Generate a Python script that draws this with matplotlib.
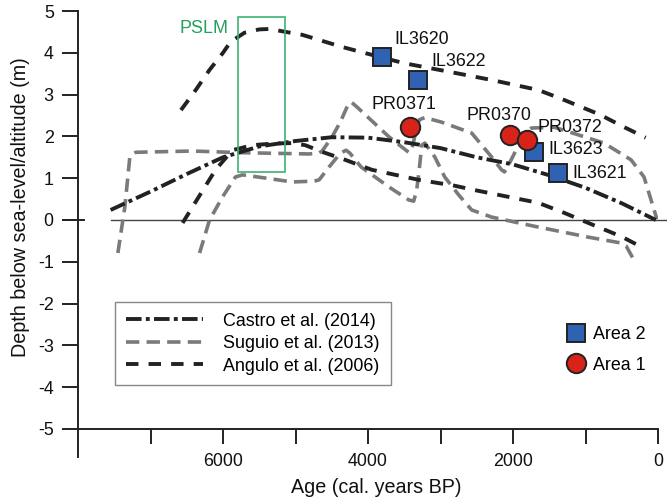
import matplotlib
matplotlib.use("Agg")
import matplotlib.pyplot as plt
import matplotlib.transforms as mtransforms
from matplotlib import font_manager
from matplotlib.lines import Line2D
from matplotlib.patches import Rectangle

# Castro et al. (2014) - single curve
castro_age = [7550, 7000, 6500, 6000, 5500, 5000, 4500, 4000, 3500, 3000, 2500, 2000, 1500, 1000, 500, 30]
castro_depth = [0.24, 0.68, 1.10, 1.50, 1.76, 1.89, 1.98, 1.97, 1.86, 1.72, 1.50, 1.33, 1.07, 0.77, 0.40, 0.0]

# Angulo et al. (2006) - upper / lower envelope
angulo_up_age = [6580, 6400, 6186, 6000, 5897, 5704, 5500, 5360, 4907, 4357, 3945, 3500, 2983, 2296, 1650, 1292, 800, 500, 170]
angulo_up_depth = [2.63, 3.05, 3.59, 4.00, 4.26, 4.48, 4.56, 4.57, 4.43, 4.14, 3.95, 3.75, 3.58, 3.35, 3.11, 2.87, 2.52, 2.25, 1.97]
angulo_lo_age = [6557, 6300, 6103, 5870, 5594, 5300, 5045, 4866, 4632, 4316, 3945, 3299, 2804, 2570, 1650, 1292, 962, 500, 190]
angulo_lo_depth = [-0.07, 0.65, 1.20, 1.67, 1.79, 1.83, 1.84, 1.79, 1.63, 1.44, 1.20, 0.96, 0.82, 0.73, 0.41, 0.17, -0.07, -0.40, -0.68]

# Suguio et al. (2013) - upper / lower envelope
suguio_up_age = [7450, 7354, 7285, 7203, 6419, 5732, 4811, 4680, 4632, 4495, 4380, 4270, 4230, 4150, 3711, 3440,
                 3400, 3330, 3290, 3216, 2983, 2570, 2296, 2158, 2117, 2080, 1979, 1820, 1746, 1430, 745, 372, 193, 15]
suguio_up_depth = [-0.79, 0.31, 1.51, 1.62, 1.65, 1.61, 1.58, 1.60, 1.65, 1.99, 2.35, 2.78, 2.82, 2.70, 1.99, 1.62,
                   1.65, 2.20, 2.40, 2.45, 2.34, 2.08, 1.51, 1.20, 1.15, 1.25, 1.60, 2.10, 2.20, 2.22, 1.84, 1.44, 1.03, 0.02]
suguio_lo_age = [6323, 6186, 6007, 5828, 5732, 5400, 5045, 4740, 4674, 4536, 4380, 4302, 4250, 4096, 3711, 3437,
                 3370, 3330, 3299, 3258, 3216, 3079, 2942, 2749, 2570, 2296, 1650, 962, 510, 440, 331]
suguio_lo_depth = [-0.79, 0.0, 0.55, 1.03, 1.08, 1.00, 0.91, 0.93, 0.96, 1.27, 1.60, 1.67, 1.60, 1.27, 0.79, 0.48,
                   0.45, 0.70, 1.12, 1.79, 1.84, 1.51, 1.03, 0.60, 0.24, 0.07, -0.17, -0.41, -0.55, -0.62, -0.96]

# samples
area2_names = ["IL3620", "IL3622", "IL3623", "IL3621"]
area2_age = [3807, 3310, 1706, 1375]
area2_depth = [3.91, 3.36, 1.63, 1.12]
area2_offsets = [(12, 17, "left"), (13, 18, "left"), (14, 2, "left"), (14, 0, "left")]

area1_names = ["PR0371", "PR0370", "PR0372"]
area1_age = [3421, 2041, 1807]
area1_depth = [2.23, 2.03, 1.91]
area1_offsets = [(-6, 22, "center"), (-11, 20, "center"), (11, 13, "left")]

# PSLM window
pslm_age = [5793, 5145]
pslm_depth = [1.15, 4.86]

names = {f.name for f in font_manager.fontManager.ttflist}
if "Liberation Sans Narrow" in names:
    plt.rcParams["font.family"] = ["Liberation Sans Narrow", "DejaVu Sans"]
    fs = 1.0
else:
    plt.rcParams["font.family"] = ["Liberation Sans", "DejaVu Sans"]
    fs = 0.86
plt.rcParams["axes.unicode_minus"] = False

ink = "#222222"
gray = "#7a7a7a"
blue = "#2f62b3"
red = "#d8231b"
green = "#3cb46e"

fig = plt.figure(figsize=(6.67, 5.03), dpi=100)
ax = fig.add_axes([78 / 667, 46 / 503, 580 / 667, 446 / 503])
ax.set_xlim(8000, 0)
ax.set_ylim(-5.67, 5)

# zero line
ax.plot([7550, -130], [0, 0], color="#444444", lw=1.0, clip_on=False, zorder=1)
trans = mtransforms.blended_transform_factory(ax.transAxes, ax.transData)
ax.plot([-0.026, 0.01], [0, 0], color=ink, lw=1.4, transform=trans, clip_on=False)

lw_b = 2.8
lw_g = 2.6
ax.plot(suguio_up_age, suguio_up_depth, color=gray, lw=lw_g, dashes=(3.7, 2.0), zorder=2)
ax.plot(suguio_lo_age, suguio_lo_depth, color=gray, lw=lw_g, dashes=(3.7, 2.0), zorder=2)
ax.plot(angulo_up_age, angulo_up_depth, color=ink, lw=lw_b, dashes=(3.2, 2.6), zorder=3)
ax.plot(angulo_lo_age, angulo_lo_depth, color=ink, lw=lw_b, dashes=(3.2, 2.6), zorder=3)
ax.plot(castro_age, castro_depth, color=ink, lw=lw_b, dashes=(4.0, 1.1, 1.0, 1.1), zorder=4)

ax.add_patch(Rectangle((pslm_age[0], pslm_depth[0]), pslm_age[1] - pslm_age[0], pslm_depth[1] - pslm_depth[0],
                       fill=False, edgecolor=green, lw=1.2, zorder=5))
ax.text(5931, 4.58, "PSLM", color="#23a05a", fontsize=15 * fs, ha="right", va="center")

ax.plot(area2_age, area2_depth, "s", ms=13.5, mfc=blue, mec=ink, mew=1.4, ls="none", zorder=6)
ax.plot(area1_age, area1_depth, "o", ms=14, mfc=red, mec=ink, mew=1.4, ls="none", zorder=6)
for nm, a, d, (dx, dy, ha) in zip(area2_names + area1_names, area2_age + area1_age,
                                  area2_depth + area1_depth, area2_offsets + area1_offsets):
    ax.annotate(nm, (a, d), xytext=(dx, dy), textcoords="offset pixels", ha=ha, va="center",
                fontsize=15 * fs, color="#111111", zorder=7)

# axes styling
for s in ["top", "right"]:
    ax.spines[s].set_visible(False)
ax.spines["bottom"].set_position(("data", -5))
for s in ["left", "bottom"]:
    ax.spines[s].set_linewidth(1.4)
    ax.spines[s].set_color(ink)
ax.set_yticks(range(-5, 6))
ax.set_xticks([6000, 4000, 2000, 0])
ax.set_xticks([7000, 5000, 3000, 1000], minor=True)
ax.tick_params(axis="both", which="both", direction="out", width=1.4, color=ink,
               labelsize=15 * fs, labelcolor="#111111")
ax.tick_params(axis="x", which="both", length=11, pad=6)
ax.tick_params(axis="y", which="both", length=11.5, pad=6)

ax.set_xlabel("Age (cal. years BP)", fontsize=16.5 * fs, color="#111111")
ax.set_ylabel("Depth below sea-level/altitude (m)", fontsize=16.5 * fs, color="#111111")
ax.xaxis.set_label_coords(0.515, -0.047)
ax.yaxis.set_label_coords(-0.083, 0.56)

# legends
line_handles = [
    Line2D([], [], color=ink, lw=lw_b, dashes=(4.0, 1.1, 1.0, 1.1)),
    Line2D([], [], color=gray, lw=lw_g, dashes=(3.7, 2.0)),
    Line2D([], [], color=ink, lw=lw_b, dashes=(3.2, 2.6)),
]
leg1 = ax.legend(line_handles, ["Castro et al. (2014)", "Suguio et al. (2013)", "Angulo et al. (2006)"],
                 loc="upper left", bbox_to_anchor=(0.0638, 0.3475), borderaxespad=0,
                 fontsize=15 * fs, handlelength=4.3, handletextpad=1.15, borderpad=0.6,
                 labelspacing=0.3, fancybox=False, framealpha=1, edgecolor="#888888")
leg1.get_frame().set_linewidth(1.0)
ax.add_artist(leg1)

mark_handles = [
    Line2D([], [], marker="s", ms=13.5, mfc=blue, mec=ink, mew=1.4, ls="none"),
    Line2D([], [], marker="o", ms=14, mfc=red, mec=ink, mew=1.4, ls="none"),
]
ax.legend(mark_handles, ["Area 2", "Area 1"], loc="upper left", bbox_to_anchor=(0.843, 0.293),
          borderaxespad=0, borderpad=0, frameon=False, fontsize=15 * fs, handlelength=1.0,
          handletextpad=0.45, labelspacing=0.75)

fig.savefig("out.png", dpi=100)
